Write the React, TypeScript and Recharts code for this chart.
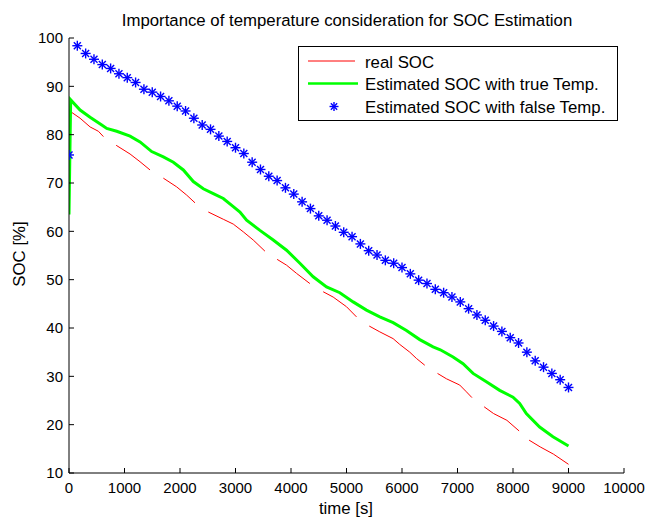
import React from 'react';
import { LineChart, Line, XAxis, YAxis, Legend } from 'recharts';

// Axis ticks
const timeTicks = [0, 1000, 2000, 3000, 4000, 5000, 6000, 7000, 8000, 9000, 10000];
const socTicks = [10, 20, 30, 40, 50, 60, 70, 80, 90, 100];

// Real SOC (logged in pieces, with gaps between the recorded stretches)
const realSocSegments: number[][][] = [
  [[0, 85.0], [200, 83.4], [380, 81.6], [530, 80.7], [620, 79.6]],
  [[850, 77.8], [1100, 76.0], [1280, 74.4], [1460, 72.7]],
  [[1700, 71.0], [1940, 69.2], [2120, 67.5], [2270, 65.9]],
  [[2510, 64.0], [2780, 62.5], [2960, 61.5], [3140, 59.9], [3320, 58.2], [3530, 55.9]],
  [[3750, 54.2], [3920, 53.0], [4100, 51.3], [4340, 49.2]],
  [[4580, 47.5], [4760, 46.4], [5000, 44.4], [5180, 42.3]],
  [[5410, 40.4], [5600, 39.2], [5840, 37.8], [5960, 36.6], [6140, 35.0], [6260, 33.7], [6410, 32.3]],
  [[6640, 30.6], [6800, 29.5], [7040, 28.2], [7160, 26.8], [7260, 25.6]],
  [[7480, 23.7], [7650, 22.3], [7890, 20.9], [8110, 18.7]],
  [[8290, 16.8], [8490, 15.4], [8730, 13.9], [9000, 11.8]],
];

// Estimated SOC with the true temperature
const trueTempTime = [
  0, 30, 200, 380, 590, 680, 860, 1100, 1280, 1490, 1700, 1880, 2060, 2240, 2420, 2600,
  2780, 2960, 3080, 3200, 3440, 3680, 3920, 4160, 4400, 4640, 4880, 5120, 5360, 5600,
  5840, 6080, 6320, 6560, 6690, 6920, 7100, 7280, 7520, 7760, 8000, 8120, 8240, 8480,
  8720, 9000,
];
const trueTempSoc = [
  63.5, 87.2, 85.1, 83.6, 82.0, 81.3, 80.7, 79.7, 78.5, 76.5, 75.4, 74.3, 72.7, 70.3, 68.8, 67.8,
  66.8, 65.1, 64.0, 62.3, 60.2, 58.2, 56.1, 53.4, 50.6, 48.5, 47.3, 45.4, 43.7, 42.3,
  41.1, 39.5, 37.6, 36.1, 35.5, 34.0, 32.6, 30.6, 28.9, 27.1, 25.7, 24.4, 22.3, 19.5,
  17.5, 15.6,
];

// Estimated SOC with a wrong temperature (sampled every 150 s)
const falseTempTime = [
  0, 150, 300, 450, 600, 750, 900, 1050, 1200, 1350, 1500, 1650, 1800, 1950, 2100, 2250,
  2400, 2550, 2700, 2850, 3000, 3150, 3300, 3450, 3600, 3750, 3900, 4050, 4200, 4350,
  4500, 4650, 4800, 4950, 5100, 5250, 5400, 5550, 5700, 5850, 6000, 6150, 6300, 6450,
  6600, 6750, 6900, 7050, 7200, 7350, 7500, 7650, 7800, 7950, 8100, 8250, 8400, 8550,
  8700, 8850, 9000,
];
const falseTempSoc = [
  75.8, 98.4, 96.8, 95.6, 94.5, 93.7, 92.6, 91.8, 90.8, 89.4, 88.8, 87.9, 87.0, 85.9, 84.9, 83.4,
  82.0, 81.1, 79.7, 78.6, 77.3, 76.1, 74.3, 72.8, 71.4, 70.5, 69.0, 67.7, 66.1, 64.7,
  63.2, 62.3, 61.1, 59.8, 58.9, 57.4, 56.0, 55.1, 54.0, 53.4, 52.5, 51.2, 49.9, 49.2,
  48.0, 47.3, 46.4, 45.4, 44.0, 42.7, 41.6, 40.4, 39.3, 38.0, 36.9, 35.0, 33.2, 31.9,
  30.6, 29.3, 27.7,
];

const seriesNames = [
  'real SOC',
  'Estimated SOC with true Temp.',
  'Estimated SOC with false Temp.',
];

const FONT = '"Liberation Sans", Arial, Helvetica, sans-serif';
const TEXT_SIZE = 16.8;
const RED = '#ff0000';
const GREEN = '#00ff00';
const BLUE = '#0000ff';

const realRows: { t: number; soc: number | null }[] = [];
realSocSegments.forEach((seg, i) => {
  if (i > 0) {
    const prevEnd = realSocSegments[i - 1][realSocSegments[i - 1].length - 1][0];
    realRows.push({ t: (prevEnd + seg[0][0]) / 2, soc: null });
  }
  seg.forEach(([t, v]) => realRows.push({ t, soc: v }));
});
const trueRows = trueTempTime.map((t, i) => ({ t, soc: trueTempSoc[i] }));
const falseRows = falseTempTime.map((t, i) => ({ t, soc: falseTempSoc[i] }));

const Asterisk = ({ cx, cy, r = 5, color = BLUE }: { cx: number; cy: number; r?: number; color?: string }) => {
  const d = r * 0.7;
  return (
    <g stroke={color} strokeWidth={1.4} fill="none">
      <line x1={cx - r} y1={cy} x2={cx + r} y2={cy} />
      <line x1={cx} y1={cy - r} x2={cx} y2={cy + r} />
      <line x1={cx - d} y1={cy - d} x2={cx + d} y2={cy + d} />
      <line x1={cx - d} y1={cy + d} x2={cx + d} y2={cy - d} />
    </g>
  );
};

const LegendBox = () => (
  <svg width={321} height={76} style={{ display: 'block' }}>
    <rect x={0.5} y={0.5} width={319} height={74} fill="#ffffff" stroke="#000000" strokeWidth={1} />
    <line x1={10} y1={15} x2={57} y2={15} stroke={RED} strokeWidth={1} />
    <line x1={10} y1={37.5} x2={60} y2={37.5} stroke={GREEN} strokeWidth={2.5} />
    <Asterisk cx={36} cy={60.5} r={4.5} />
    {seriesNames.map((name, i) => (
      <text key={name} x={67} y={21.5 + i * 22.5} fontFamily={FONT} fontSize={TEXT_SIZE} fill="#000000">
        {name}
      </text>
    ))}
  </svg>
);

const tickStyle = { fill: '#000000', fontSize: 15, fontFamily: FONT };

export default function App() {
  return (
    <div style={{ position: 'absolute', left: 0, top: 0, background: '#ffffff' }}>
      <LineChart width={649} height={517} margin={{ top: 38, right: 25, bottom: 0, left: 0 }}>
        <XAxis
          dataKey="t"
          type="number"
          domain={[0, 10000]}
          ticks={timeTicks}
          height={44}
          stroke="#000000"
          tickSize={-5}
          tickMargin={14}
          tick={tickStyle}
          allowDataOverflow
        />
        <XAxis
          xAxisId="top"
          orientation="top"
          dataKey="t"
          type="number"
          domain={[0, 10000]}
          ticks={timeTicks}
          height={0}
          stroke="#000000"
          tickSize={-5}
          tick={false}
        />
        <YAxis
          type="number"
          domain={[10, 100]}
          ticks={socTicks}
          width={69}
          stroke="#000000"
          tickSize={-5}
          tickMargin={11}
          tick={tickStyle}
          allowDataOverflow
        />
        <YAxis
          yAxisId="right"
          orientation="right"
          type="number"
          domain={[10, 100]}
          ticks={socTicks}
          width={0}
          stroke="#000000"
          tickSize={-5}
          tick={false}
        />
        <Line
          data={realRows}
          dataKey="soc"
          name={seriesNames[0]}
          stroke={RED}
          strokeWidth={1}
          dot={false}
          connectNulls={false}
          isAnimationActive={false}
        />
        <Line
          data={trueRows}
          dataKey="soc"
          name={seriesNames[1]}
          stroke={GREEN}
          strokeWidth={3}
          dot={false}
          isAnimationActive={false}
        />
        <Line
          data={falseRows}
          dataKey="soc"
          name={seriesNames[2]}
          stroke="none"
          dot={(p: any) => <Asterisk key={`s-${p.index}`} cx={p.cx} cy={p.cy} />}
          isAnimationActive={false}
        />
        <Legend
          layout="horizontal"
          verticalAlign="middle"
          align="center"
          content={<LegendBox />}
          wrapperStyle={{ position: 'absolute', left: 298, top: 46, width: 321, height: 76 }}
        />
        <text x={347} y={25.5} textAnchor="middle" fontFamily={FONT} fontSize={TEXT_SIZE} fill="#000000">
          Importance of temperature consideration for SOC Estimation
        </text>
        <text x={346} y={514} textAnchor="middle" fontFamily={FONT} fontSize={TEXT_SIZE} fill="#000000">
          time [s]
        </text>
        <text
          x={0}
          y={0}
          transform="translate(25, 254) rotate(-90)"
          textAnchor="middle"
          fontFamily={FONT}
          fontSize={TEXT_SIZE}
          fill="#000000"
        >
          SOC [%]
        </text>
      </LineChart>
    </div>
  );
}
